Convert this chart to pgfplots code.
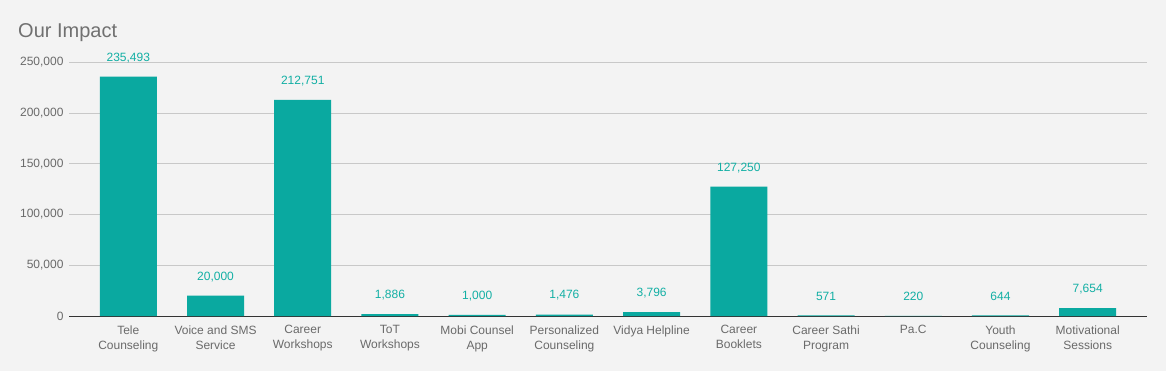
\documentclass[border=0pt]{standalone}
\usepackage{pgfplots}
\pgfplotsset{compat=1.18}
\usepackage{fontspec}
\setmainfont{Liberation Sans}
\definecolor{bg}{HTML}{F3F3F3}
\definecolor{bar}{HTML}{0AA9A0}
\definecolor{lbl}{HTML}{12AFA4}
\definecolor{tick}{HTML}{6A6A6A}
\definecolor{ttl}{HTML}{707070}
\definecolor{grd}{HTML}{C8C8C8}
\begin{document}
\begin{tikzpicture}[x=1bp,y=1bp]
\fill[bg] (0,0) rectangle (1166,371);
\node[anchor=west, text=ttl, font=\fontsize{20bp}{24bp}\selectfont, inner sep=0pt] at (18,338) {Our Impact};
\begin{axis}[
  at={(69bp,55bp)}, anchor=south west,
  scale only axis, width=1078bp, height=254bp,
  xmin=-0.68, xmax=11.68, ymin=0, ymax=250000,
  ybar, bar width=57bp, bar shift=0pt,
  clip=false,
  axis x line*=bottom, axis y line*=left,
  y axis line style={draw=none},
  x axis line style={draw=black!80, line width=0.8pt},
  major tick length=0pt,
  ymajorgrids, grid style={grd, line width=0.6pt},
  ytick={0,50000,100000,150000,200000,250000},
  scaled y ticks=false,
  /pgf/number format/fixed, /pgf/number format/precision=0, /pgf/number format/1000 sep={,},
  /pgf/number format/assume math mode=true,
  ticklabel style={font=\fontsize{12bp}{15bp}\selectfont, text=tick},
  yticklabel style={xshift=-2bp},
  xtick={0,...,11},
  xticklabels={{Tele\\Counseling},{Voice and SMS\\Service},{Career\\Workshops},{ToT\\Workshops},{Mobi Counsel\\App},{Personalized\\Counseling},{Vidya Helpline},{Career\\Booklets},{Career Sathi\\Program},{Pa.C},{Youth\\Counseling},{Motivational\\Sessions}},
  xticklabel style={align=center, yshift=-6bp},
  nodes near coords,
  every node near coord/.append style={font=\fontsize{12bp}{15bp}\selectfont, text=lbl, anchor=center, yshift=19bp},
]
\addplot[fill=bar, draw=none] coordinates {
(0,235493) (1,20000) (2,212751) (3,1886) (4,1000) (5,1476) (6,3796) (7,127250) (8,571) (9,220) (10,644) (11,7654)
};
\end{axis}
\end{tikzpicture}
\end{document}
